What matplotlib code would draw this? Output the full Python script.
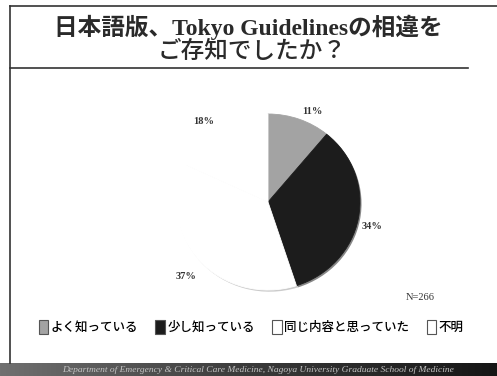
import numpy as np
import matplotlib.pyplot as plt
from matplotlib.lines import Line2D
from matplotlib.patches import Patch
from matplotlib.colors import LinearSegmentedColormap

# answers to "did you know the differences between the Japanese version and Tokyo Guidelines?"
categories = ['よく知っている', '少し知っている', '同じ内容と思っていた', '不明']
percent = [11, 34, 37, 18]
colors = ['#a3a3a3', '#1c1c1c', '#ffffff', '#ffffff']
n_label = 'N=266'
title_lines = ['日本語版、Tokyo Guidelinesの相違を', 'ご存知でしたか？']
footer = ('Department of Emergency & Critical Care Medicine, '
          'Nagoya University Graduate School of Medicine')

# where the percent labels sit (in pie radius units), as on the slide
label_xy = [(0.48, 1.03), (1.13, -0.28), (-0.89, -0.85), (-0.70, 0.91)]

W, H = 497, 376
fig = plt.figure(figsize=(W / 100, H / 100), dpi=100)
fig.patch.set_facecolor('white')

mixed = ['Liberation Serif', 'Noto Sans CJK JP']
jp = ['Noto Sans CJK JP', 'DejaVu Sans']

# slide frame lines
fig.add_artist(Line2D([10 / W, 1.0], [1 - 6 / H, 1 - 6 / H], color='#333333', lw=1.2))
fig.add_artist(Line2D([10 / W, 10 / W], [1 - 6 / H, 1 - 363 / H], color='#333333', lw=1.2))
fig.add_artist(Line2D([10 / W, 468 / W], [1 - 68 / H, 1 - 68 / H], color='#333333', lw=1.2))

# title
fig.text(248 / W, 1 - 27 / H, title_lines[0], ha='center', va='center',
         fontsize=17, fontweight='bold', color='#2a2a2a', family=mixed)
fig.text(252 / W, 1 - 52 / H, title_lines[1], ha='center', va='center',
         fontsize=17, fontweight='medium', color='#2a2a2a', family=jp)

# pie (slightly squashed, like the slide)
cx, cy, rx, ry = 268, 202, 92, 88
aw, ah = 2 * rx / W, 2 * ry / H
ax = fig.add_axes([cx / W - aw / 2, 1 - cy / H - ah / 2, aw, ah])
wedges, texts, autotexts = ax.pie(
    percent, colors=colors, startangle=90, counterclock=False,
    autopct='%d%%', pctdistance=1.15,
    shadow={'ox': 0.012, 'oy': -0.014, 'shade': 0.4},
    wedgeprops={'linewidth': 0},
    textprops={'fontsize': 7.5, 'fontweight': 'bold', 'family': 'Liberation Serif',
               'color': '#333333'})
for w in wedges:
    # hide the seams between the two white slices
    w.set_edgecolor(w.get_facecolor())
    w.set_linewidth(0.6)
for t, xy in zip(autotexts, label_xy):
    t.set_position(xy)
ax.set_xlim(-1, 1)
ax.set_ylim(-1, 1)
ax.set_aspect('auto')

fig.text(420 / W, 1 - 297 / H, n_label, ha='center', va='center',
         fontsize=7.5, family='Liberation Serif', color='#333333')

# legend
handles = [Patch(facecolor=c, edgecolor='#555555', linewidth=0.8) for c in colors]
fig.legend(handles, categories, loc='center', bbox_to_anchor=(251 / W, 1 - 327 / H),
           ncol=4, frameon=False, handlelength=0.75, handleheight=1.4,
           handletextpad=0.2, columnspacing=1.4,
           prop={'family': jp, 'size': 9, 'weight': 'medium'})

# footer band, grey on the left fading to near black
band_cmap = LinearSegmentedColormap.from_list('band', ['#707070', '#3a3a3a', '#161616'])
band = fig.add_axes([0, 0, 1, 13 / H])
band.imshow(np.linspace(0, 1, 256).reshape(1, -1), cmap=band_cmap,
            aspect='auto', extent=[0, 1, 0, 1])
band.set_axis_off()
band.text(0.52, 0.5, footer, transform=band.transAxes, ha='center', va='center',
          fontsize=6.8, style='italic', family='Liberation Serif', color='#c4c4c4')

fig.savefig('out.png', dpi=100)
